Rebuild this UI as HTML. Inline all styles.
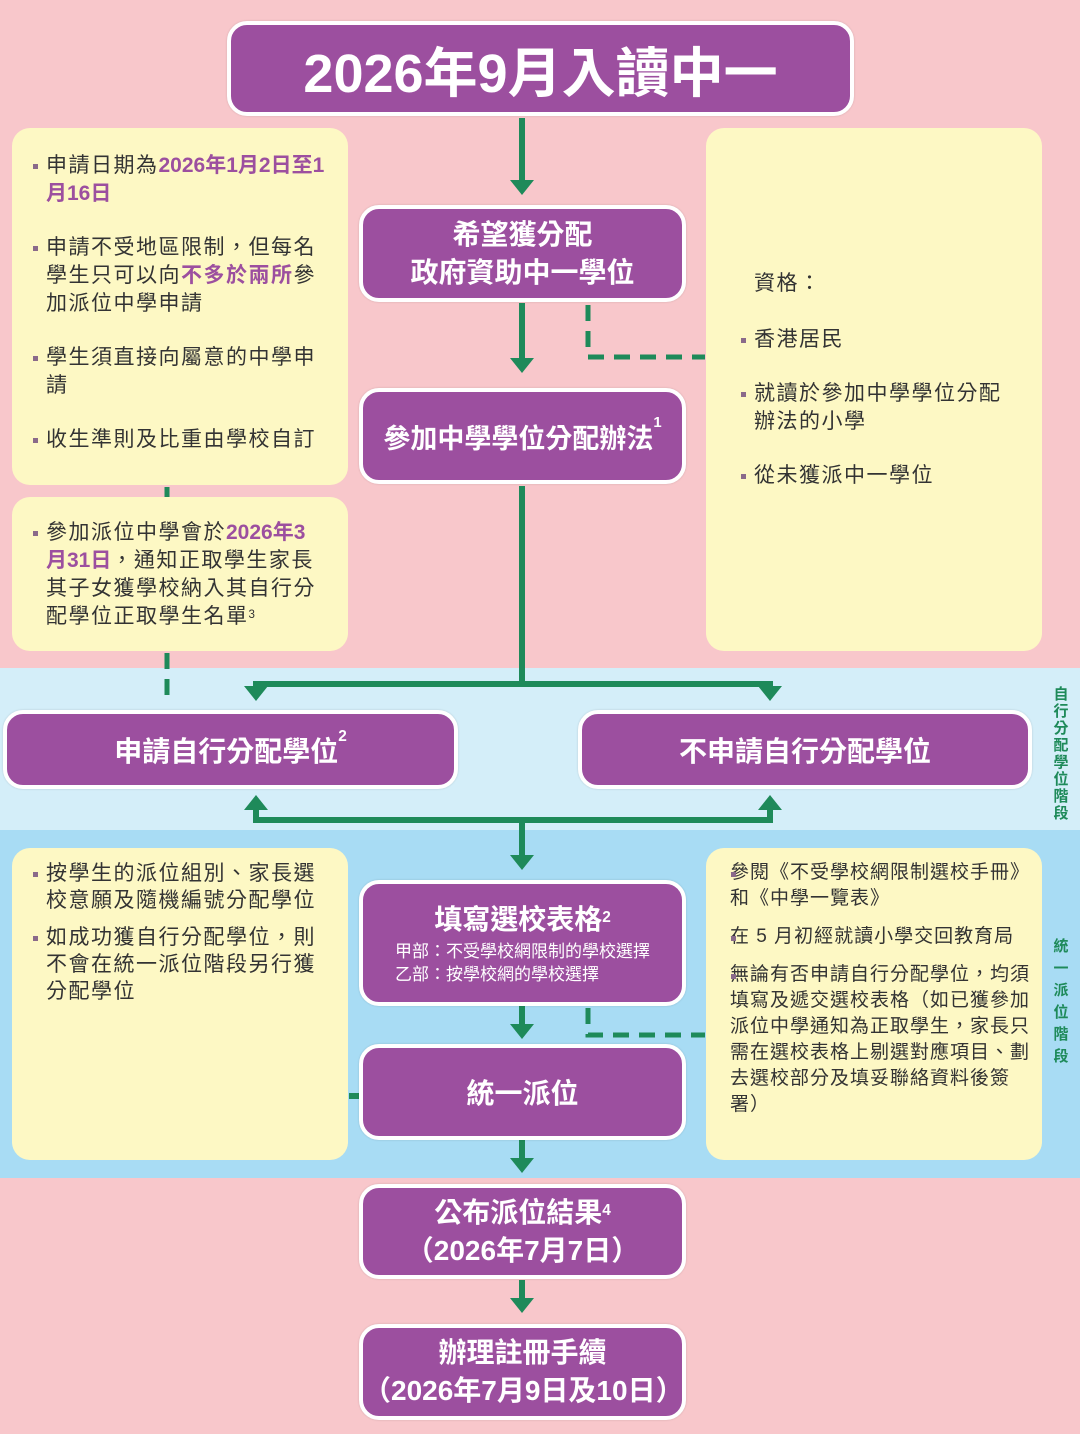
<!DOCTYPE html>
<html><head><meta charset="utf-8"><style>
*{margin:0;padding:0;box-sizing:border-box}
body{width:1080px;height:1434px;background:#f8c7cb;position:relative;overflow:hidden;font-family:"Liberation Sans","Noto Sans CJK TC",sans-serif}
.band1{position:absolute;left:0;top:668px;width:1080px;height:162px;background:#d4eef9}
.band2{position:absolute;left:0;top:830px;width:1080px;height:348px;background:#a8dcf4}
.p{position:absolute;background:#9c4f9f;border:4px solid #fff;border-radius:20px;color:#fff;font-weight:bold;display:flex;flex-direction:column;align-items:center;justify-content:center;text-align:center;box-shadow:0 0 2px rgba(0,0,0,.15)}
.c{position:absolute;background:#fdf8c4;border-radius:18px;color:#333;font-size:21px;line-height:28px;letter-spacing:1.5px}
.c .b{position:relative;padding-left:24px;margin-bottom:26px}
.c .b::before{content:"";position:absolute;left:11px;top:12px;width:5px;height:5px;background:#8a6a8a}
.hl{color:#9c4f9f;font-weight:bold;letter-spacing:0}
sup{font-size:.55em;vertical-align:top;position:relative;top:-2px}
.side{position:absolute;left:1052px;width:18px;color:#1e8a5a;font-size:15px;font-weight:bold;line-height:17px;text-align:center}
svg{position:absolute;left:0;top:0}
</style></head><body>
<div class="band1"></div><div class="band2"></div>

<svg width="1080" height="1434">
<g stroke="#1e8a5a" stroke-width="6" fill="none">
<line x1="522" y1="118" x2="522" y2="182"/>
<line x1="522" y1="303" x2="522" y2="360"/>
<polyline points="522,486 522,684 256,684 256,688"/>
<polyline points="522,684 770,684 770,688"/>
<polyline points="256,808 256,820 770,820 770,808"/>
<line x1="522" y1="820" x2="522" y2="857"/>
<line x1="522" y1="1006" x2="522" y2="1026"/>
<line x1="522" y1="1140" x2="522" y2="1160"/>
<line x1="522" y1="1280" x2="522" y2="1300"/>
<line x1="349" y1="1096" x2="360" y2="1096"/>
</g>
<g stroke="#1e8a5a" stroke-width="5" fill="none" stroke-dasharray="16,10">
<polyline points="588,305 588,357 705,357"/>
<polyline points="588,1008 588,1035 705,1035"/>
<line x1="167" y1="487" x2="167" y2="497"/>
<line x1="167" y1="653" x2="167" y2="705"/>
</g>
<g fill="#1e8a5a">
<polygon points="510,180 534,180 522,195"/>
<polygon points="510,358 534,358 522,373"/>
<polygon points="244,686 268,686 256,701"/>
<polygon points="758,686 782,686 770,701"/>
<polygon points="244,810 268,810 256,795"/>
<polygon points="758,810 782,810 770,795"/>
<polygon points="510,855 534,855 522,870"/>
<polygon points="510,1024 534,1024 522,1039"/>
<polygon points="510,1158 534,1158 522,1173"/>
<polygon points="510,1298 534,1298 522,1313"/>
</g>
</svg>

<div class="p" style="left:227px;top:21px;width:627px;height:95px;font-size:54px"><div>2026年9月入讀中一</div></div>

<div class="c" style="left:12px;top:128px;width:336px;height:357px;padding:24px 22px 0 10px">
<div class="b">申請日期為<span class="hl">2026年1月2日至1月16日</span></div>
<div class="b">申請不受地區限制，但每名學生只可以向<span class="hl" style="letter-spacing:1.5px">不多於兩所</span>參加派位中學申請</div>
<div class="b">學生須直接向屬意的中學申請</div>
<div class="b">收生準則及比重由學校自訂</div>
</div>
<div class="c" style="left:12px;top:497px;width:336px;height:154px;padding:22px 22px 0 10px">
<div class="b">參加派位中學會於<span class="hl">2026年3月31日</span>，通知正取學生家長其子女獲學校納入其自行分配學位正取學生名單<sup>3</sup></div>
</div>
<div class="c" style="left:706px;top:128px;width:336px;height:523px;padding:142px 22px 0 24px">
<div style="padding-left:24px;margin-bottom:28px">資格：</div>
<div class="b">香港居民</div>
<div class="b">就讀於參加中學學位分配辦法的小學</div>
<div class="b">從未獲派中一學位</div>
</div>

<div class="p" style="left:359px;top:205px;width:327px;height:97px;font-size:28px;line-height:38px"><div>希望獲分配<br>政府資助中一學位</div></div>
<div class="p" style="left:359px;top:388px;width:327px;height:96px;font-size:27px"><div>參加中學學位分配辦法<sup>1</sup></div></div>

<div class="p" style="left:3px;top:710px;width:455px;height:79px;font-size:28px"><div>申請自行分配學位<sup>2</sup></div></div>
<div class="p" style="left:578px;top:710px;width:454px;height:79px;font-size:28px"><div>不申請自行分配學位</div></div>

<div class="c" style="left:12px;top:848px;width:336px;height:312px;padding:12px 20px 0 10px;font-size:21px;line-height:27px">
<div class="b" style="margin-bottom:10px">按學生的派位組別、家長選校意願及隨機編號分配學位</div>
<div class="b">如成功獲自行分配學位，則不會在統一派位階段另行獲分配學位</div>
</div>
<div class="c" style="left:706px;top:848px;width:336px;height:312px;padding:12px 12px 0 14px;font-size:19px;line-height:26px;letter-spacing:1px">
<div class="b" style="margin-bottom:12px;padding-left:10px">參閱《不受學校網限制選校手冊》和《中學一覽表》</div>
<div class="b" style="margin-bottom:12px;padding-left:10px">在 5 月初經就讀小學交回教育局</div>
<div class="b" style="padding-left:10px">無論有否申請自行分配學位，均須填寫及遞交選校表格（如已獲參加派位中學通知為正取學生，家長只需在選校表格上剔選對應項目、劃去選校部分及填妥聯絡資料後簽署）</div>
</div>

<div class="p" style="left:359px;top:880px;width:327px;height:126px">
<div style="font-size:28px;line-height:40px">填寫選校表格<sup>2</sup></div>
<div style="font-size:17px;line-height:23px;font-weight:normal;text-align:left">甲部：不受學校網限制的學校選擇<br>乙部：按學校網的學校選擇</div>
</div>
<div class="p" style="left:359px;top:1044px;width:327px;height:96px;font-size:28px"><div>統一派位</div></div>
<div class="p" style="left:359px;top:1184px;width:327px;height:95px;font-size:28px;line-height:38px"><div>公布派位結果<sup>4</sup><br>（2026年7月7日）</div></div>
<div class="p" style="left:359px;top:1324px;width:327px;height:96px;font-size:28px;line-height:38px"><div>辦理註冊手續<br>（2026年7月9日及10日）</div></div>

<div class="side" style="top:686px">自<br>行<br>分<br>配<br>學<br>位<br>階<br>段</div>
<div class="side" style="top:936px;line-height:22px">統<br>一<br>派<br>位<br>階<br>段</div>
</body></html>
